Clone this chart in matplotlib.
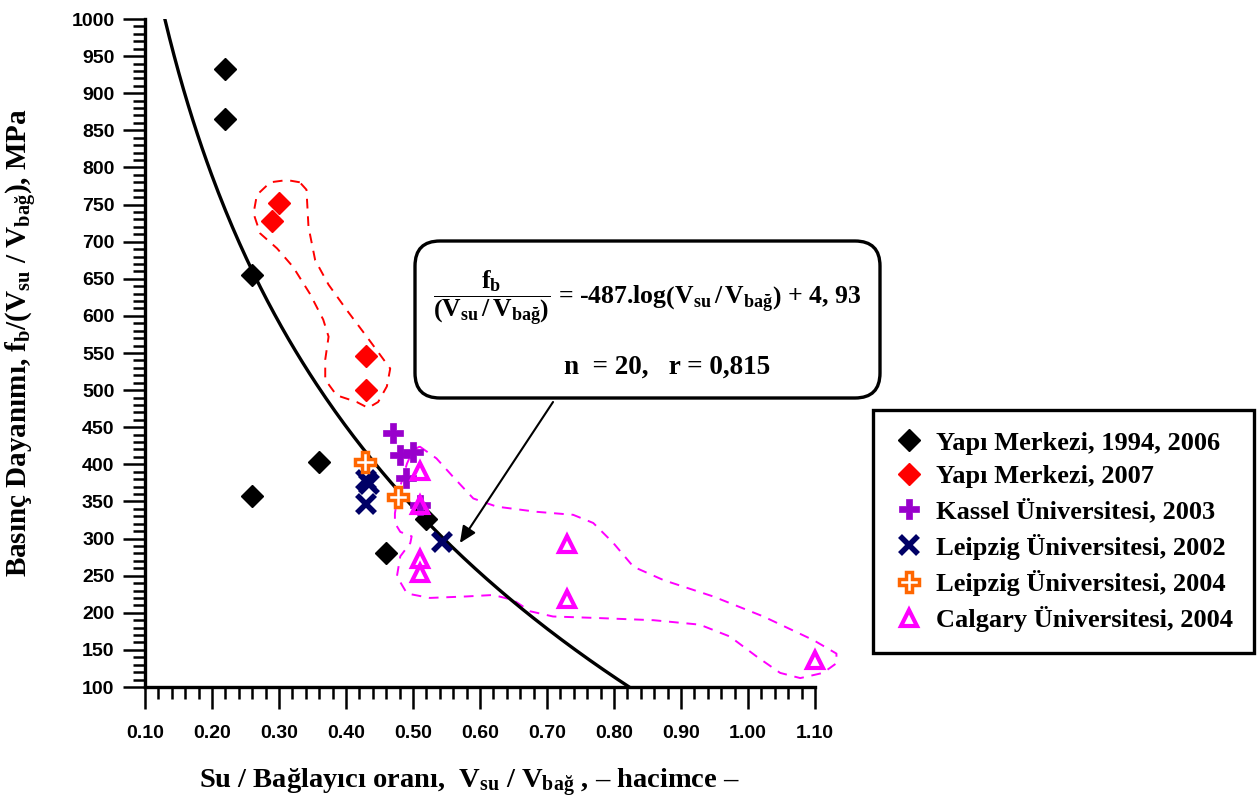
import numpy as np
import matplotlib
matplotlib.use("Agg")
import matplotlib.pyplot as plt
from matplotlib.ticker import MultipleLocator, FormatStrFormatter
from matplotlib.patches import FancyBboxPatch

# ---- data ----
ym_old_x = [0.22, 0.22, 0.26, 0.26, 0.36, 0.46, 0.52]
ym_old_y = [933, 865, 655, 358, 403, 280, 326]

ym_new_x = [0.30, 0.29, 0.43, 0.43]
ym_new_y = [752, 728, 546, 500]

kassel_x = [0.47, 0.48, 0.50, 0.49, 0.51]
kassel_y = [442, 413, 416, 381, 345]

leip02_x = [0.43, 0.435, 0.43, 0.543]
leip02_y = [379, 373, 347, 296]

leip04_x = [0.428, 0.478]
leip04_y = [403, 356]

calg_x = [0.51, 0.51, 0.51, 0.51, 0.73, 0.73, 1.10]
calg_y = [391, 345, 273, 254, 293, 219, 136]

# fitted relation printed in the box: y = a*ln(x) + b
fit_a = -487.0
fit_b = 4.93

# hand-drawn dashed envelopes (data coords)
red_env_x = [0.331, 0.312, 0.287, 0.267, 0.262, 0.272, 0.297, 0.321, 0.346, 0.366,
             0.374, 0.369, 0.369, 0.386, 0.416, 0.433, 0.448, 0.461, 0.466, 0.453,
             0.431, 0.401, 0.374, 0.354, 0.344, 0.341, 0.331]
red_env_y = [780, 783, 780, 763, 738, 711, 691, 666, 630, 595,
             572, 541, 514, 493, 484, 476, 484, 505, 529, 545,
             572, 608, 642, 675, 720, 770, 780]

mag_env_x = [0.510, 0.535, 0.560, 0.590, 0.625, 0.685, 0.739, 0.769, 0.799, 0.829,
             0.874, 0.948, 1.023, 1.098, 1.132, 1.132, 1.112, 1.078, 1.048, 1.013,
             0.973, 0.928, 0.859, 0.774, 0.709, 0.675, 0.650, 0.620, 0.580, 0.525,
             0.491, 0.476, 0.481, 0.496, 0.498, 0.481, 0.473, 0.473, 0.478, 0.491,
             0.500, 0.510]
mag_env_y = [424, 408, 383, 354, 343, 336, 332, 321, 294, 262,
             244, 222, 195, 163, 145, 132, 119, 112, 119, 141,
             168, 184, 190, 193, 195, 202, 217, 224, 222, 220,
             226, 249, 276, 294, 303, 309, 321, 334, 361, 401,
             419, 424]

legend_labels = ["Yapı Merkezi, 1994, 2006", "Yapı Merkezi, 2007",
                 "Kassel Üniversitesi, 2003", "Leipzig Üniversitesi, 2002",
                 "Leipzig Üniversitesi, 2004", "Calgary Üniversitesi, 2004"]

# ---- fonts ----
plt.rcParams["mathtext.fontset"] = "custom"
plt.rcParams["mathtext.rm"] = "Liberation Serif:bold"
plt.rcParams["mathtext.it"] = "Liberation Serif:bold"
plt.rcParams["mathtext.bf"] = "Liberation Serif:bold"
serif = dict(family="Liberation Serif", weight="bold")

# ---- plot ----
fig = plt.figure(figsize=(12.6, 8.05), dpi=100)
ax = fig.add_axes([145 / 1260, 1 - 687 / 805, 670 / 1260, 668 / 805])

# fit curve between y=1000 and y=100
xs = np.linspace(np.exp((fit_b - 1000) / -fit_a), np.exp((fit_b - 100) / -fit_a), 200)
ax.plot(xs, fit_a * np.log(xs) + fit_b, color="black", lw=2.4, zorder=2)

ax.plot(red_env_x, red_env_y, color="red", lw=1.4, ls=(0, (5, 4)), zorder=1)
ax.plot(mag_env_x, mag_env_y, color="#FF00FF", lw=1.4, ls=(0, (5, 4)), zorder=1, clip_on=False)

h1, = ax.plot(ym_old_x, ym_old_y, ls="none", marker="D", ms=11, color="black", zorder=3)
h2, = ax.plot(ym_new_x, ym_new_y, ls="none", marker="D", ms=11, color="red", zorder=3)
h3, = ax.plot(kassel_x, kassel_y, ls="none", marker="P", ms=15, color="#9900CC",
              mec="#9900CC", mew=0.5, zorder=3)
h4, = ax.plot(leip02_x, leip02_y, ls="none", marker="x", ms=13, color="#000066", mew=4, zorder=3)
h5, = ax.plot(leip04_x, leip04_y, ls="none", marker="P", ms=15, mfc="white",
              mec="#FF6600", mew=2.5, zorder=3)
h6, = ax.plot(calg_x, calg_y, ls="none", marker="^", ms=12, mfc="none",
              mec="#FF00FF", mew=3, zorder=4, clip_on=False)

ax.set_xlim(0.10, 1.10)
ax.set_ylim(100, 1000)
ax.xaxis.set_major_locator(MultipleLocator(0.1))
ax.xaxis.set_minor_locator(MultipleLocator(0.02))
ax.xaxis.set_major_formatter(FormatStrFormatter("%.2f"))
ax.yaxis.set_major_locator(MultipleLocator(50))
ax.yaxis.set_minor_locator(MultipleLocator(10))
ax.spines[["top", "right"]].set_visible(False)
ax.spines[["left", "bottom"]].set_linewidth(2.4)
ax.tick_params(which="major", direction="out", length=16, width=1.8)
ax.tick_params(which="minor", direction="out", length=8.5, width=1.8)
ax.tick_params(axis="x", which="major", pad=11)
ax.tick_params(axis="y", which="major", pad=6)
for lab in ax.get_xticklabels() + ax.get_yticklabels():
    lab.set_fontfamily("Liberation Sans")
    lab.set_fontweight("bold")
    lab.set_fontsize(14)

ax.set_ylabel(r"Basınç Dayanımı, f$_{\mathregular{b}}$/(V$_{\mathregular{su}}$ / V$_{\mathregular{bağ}}$), MPa",
              fontsize=21, **serif)
ax.yaxis.set_label_coords(-0.158, 0.516)
ax.set_xlabel(r"Su / Bağlayıcı oranı,  V$_{\mathregular{su}}$ / V$_{\mathregular{bağ}}$ , – hacimce –",
              fontsize=20.5, **serif)
ax.xaxis.set_label_coords(0.484, -0.119)

# arrow from the equation box to the curve
ax.annotate("", xy=(0.570, 294), xytext=(0.709, 484),
            arrowprops=dict(arrowstyle="-|>,head_length=1.0,head_width=0.45",
                            color="black", lw=1.5, shrinkA=0, shrinkB=0))

# rounded equation box (inches)
box = FancyBboxPatch((4.15, 4.07), 4.65, 1.57, boxstyle="round,pad=0,rounding_size=0.25",
                     transform=fig.dpi_scale_trans, fc="white", ec="black", lw=2.4, zorder=5)
fig.patches.append(box)
fig.text(647 / 1260, 1 - 298 / 805,
         r"$\dfrac{\mathrm{f_b}}{\left(\mathrm{V_{su}}\,/\,\mathrm{V_{bağ}}\right)}$"
         r" = -487.log$\left(\mathrm{V_{su}}\,/\,\mathrm{V_{bağ}}\right)$ + 4, 93",
         ha="center", va="center", fontsize=18.5, zorder=6, **serif)
fig.text(667 / 1260, 1 - 367 / 805, "n  = 20,   r = 0,815",
         ha="center", va="center", fontsize=19.5, zorder=6, **serif)

leg = fig.legend([h1, h2, h3, h4, h5, h6], legend_labels, loc="upper left",
                 bbox_to_anchor=(873 / 1260, 1 - 410 / 805), borderaxespad=0,
                 prop=dict(family="Liberation Serif", weight="bold", size=19),
                 frameon=True, fancybox=False, edgecolor="black", framealpha=1,
                 handlelength=1.1, handletextpad=0.5, labelspacing=0.39, borderpad=0.8)
leg.get_frame().set_linewidth(2.4)

fig.savefig("out.png", dpi=100)
